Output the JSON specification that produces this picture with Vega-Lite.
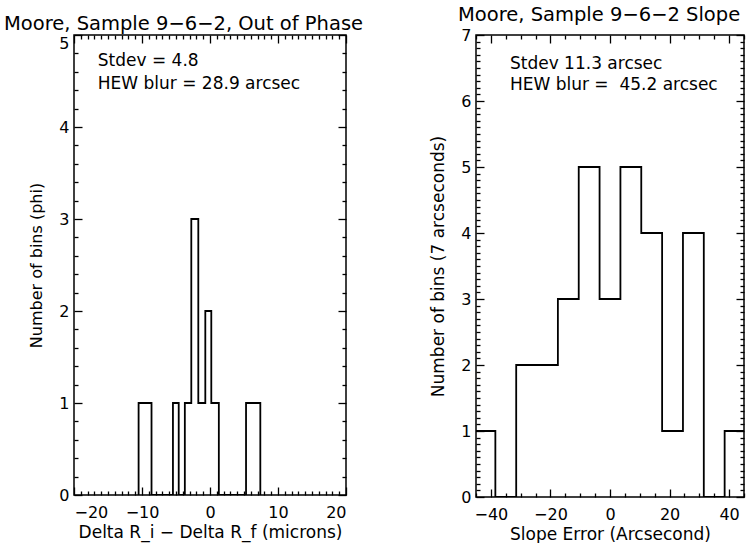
{
  "$schema": "https://vega.github.io/schema/vega-lite/v6.json",
  "background": "white",
  "padding": {"left": 3, "top": 3, "right": 0, "bottom": 0},
  "config": {
    "view": {"stroke": "black", "strokeWidth": 1.5},
    "font": "DejaVu Sans",
    "axis": {"grid": false, "domain": false, "tickColor": "black", "tickWidth": 1.3, "labelColor": "black", "titleColor": "black", "labelFont": "DejaVu Sans", "titleFont": "DejaVu Sans", "labelFontSize": 16, "titleFontSize": 17, "titleFontWeight": "normal"},
    "title": {"fontSize": 19.5, "fontWeight": "normal", "color": "black", "anchor": "start", "frame": "group", "font": "DejaVu Sans"}
  },
  "datasets": {
    "left": [
      {"x": -10.5, "y": 0}, {"x": -10.5, "y": 1}, {"x": -8.6, "y": 0},
      {"x": -5.45, "y": 1}, {"x": -4.6, "y": 0},
      {"x": -3.7, "y": 1}, {"x": -2.75, "y": 3}, {"x": -1.72, "y": 1}, {"x": -0.69, "y": 2}, {"x": 0.19, "y": 1}, {"x": 1.3, "y": 0},
      {"x": 5.3, "y": 1}, {"x": 7.4, "y": 0}
    ],
    "right": [
      {"x": -45, "y": 1}, {"x": -38.5, "y": 0}, {"x": -31.5, "y": 2}, {"x": -17.5, "y": 3}, {"x": -10.5, "y": 5},
      {"x": -3.5, "y": 3}, {"x": 3.5, "y": 5}, {"x": 10.5, "y": 4}, {"x": 17.5, "y": 1}, {"x": 24.5, "y": 4},
      {"x": 31.5, "y": 0}, {"x": 38.5, "y": 1}, {"x": 45, "y": 1}
    ],
    "leftText": [
      {"x": -16.5, "y": 4.72, "label": "Stdev = 4.8"},
      {"x": -16.5, "y": 4.47, "label": "HEW blur = 28.9 arcsec"}
    ],
    "rightText": [
      {"x": -33.6, "y": 6.56, "label": "Stdev 11.3 arcsec"},
      {"x": -33.6, "y": 6.24, "label": "HEW blur =\u00a0 45.2 arcsec"}
    ]
  },
  "bounds": "flush",
  "spacing": 130,
  "hconcat": [
    {
      "width": 272,
      "height": 460,
      "title": {"text": "Moore, Sample 9\u22126\u22122, Out of Phase", "dx": -70, "offset": 0},
      "resolve": {"axis": {"x": "independent", "y": "independent"}},
      "layer": [
        {
          "data": {"name": "left"},
          "mark": {"type": "line", "interpolate": "step-after", "color": "black", "strokeWidth": 1.8, "clip": true},
          "encoding": {
            "x": {"field": "x", "type": "quantitative", "scale": {"domain": [-20, 20], "nice": false, "zero": false},
              "axis": {"orient": "bottom", "values": [-20, -10, 0, 10, 20], "tickSize": 8, "offset": -8, "labelPadding": 9, "title": "Delta R_i \u2212 Delta R_f (microns)", "titlePadding": 4}},
            "y": {"field": "y", "type": "quantitative", "scale": {"domain": [0, 5], "nice": false},
              "axis": {"orient": "left", "values": [0, 1, 2, 3, 4, 5], "tickSize": 8, "offset": -8, "labelPadding": 5, "labelBaseline": {"condition": {"test": "datum.value === 5", "value": "top"}, "value": "middle"}, "title": "Number of bins (phi)", "titleFontSize": 16, "titlePadding": 14}}
          }
        },
        {
          "data": {"name": "left"},
          "mark": {"type": "line", "interpolate": "step-after", "opacity": 0},
          "encoding": {
            "x": {"field": "x", "type": "quantitative", "scale": {"domain": [-20, 20], "nice": false, "zero": false},
              "axis": {"orient": "bottom", "values": [-19,-18,-17,-16,-15,-14,-13,-12,-11,-9,-8,-7,-6,-5,-4,-3,-2,-1,1,2,3,4,5,6,7,8,9,11,12,13,14,15,16,17,18,19], "tickSize": 4, "offset": -4, "labels": false, "title": null}},
            "y": {"field": "y", "type": "quantitative", "scale": {"domain": [0, 5], "nice": false},
              "axis": {"orient": "left", "values": [0.2,0.4,0.6,0.8,1.2,1.4,1.6,1.8,2.2,2.4,2.6,2.8,3.2,3.4,3.6,3.8,4.2,4.4,4.6,4.8], "tickSize": 4, "offset": -4, "labels": false, "title": null}}
          }
        },
        {
          "data": {"name": "left"},
          "mark": {"type": "line", "interpolate": "step-after", "opacity": 0},
          "encoding": {
            "x": {"field": "x", "type": "quantitative", "scale": {"domain": [-20, 20], "nice": false, "zero": false},
              "axis": {"orient": "top", "values": [-20, -10, 0, 10, 20], "tickSize": 8, "offset": -8, "labels": false, "title": null}},
            "y": {"field": "y", "type": "quantitative", "scale": {"domain": [0, 5], "nice": false},
              "axis": {"orient": "right", "values": [0, 1, 2, 3, 4, 5], "tickSize": 8, "offset": -8, "labels": false, "title": null}}
          }
        },
        {
          "data": {"name": "left"},
          "mark": {"type": "line", "interpolate": "step-after", "opacity": 0},
          "encoding": {
            "x": {"field": "x", "type": "quantitative", "scale": {"domain": [-20, 20], "nice": false, "zero": false},
              "axis": {"orient": "top", "values": [-19,-18,-17,-16,-15,-14,-13,-12,-11,-9,-8,-7,-6,-5,-4,-3,-2,-1,1,2,3,4,5,6,7,8,9,11,12,13,14,15,16,17,18,19], "tickSize": 4, "offset": -4, "labels": false, "title": null}},
            "y": {"field": "y", "type": "quantitative", "scale": {"domain": [0, 5], "nice": false},
              "axis": {"orient": "right", "values": [0.2,0.4,0.6,0.8,1.2,1.4,1.6,1.8,2.2,2.4,2.6,2.8,3.2,3.4,3.6,3.8,4.2,4.4,4.6,4.8], "tickSize": 4, "offset": -4, "labels": false, "title": null}}
          }
        },
        {
          "data": {"name": "leftText"},
          "mark": {"type": "text", "align": "left", "baseline": "middle", "fontSize": 17, "color": "black"},
          "encoding": {
            "x": {"field": "x", "type": "quantitative", "axis": null},
            "y": {"field": "y", "type": "quantitative", "axis": null},
            "text": {"field": "label"}
          }
        }
      ]
    },
    {
      "width": 268,
      "height": 462,
      "title": {"text": "Moore, Sample 9\u22126\u22122 Slope", "dx": -18, "offset": 2},
      "resolve": {"axis": {"x": "independent", "y": "independent"}},
      "layer": [
        {
          "data": {"name": "right"},
          "mark": {"type": "line", "interpolate": "step-after", "color": "black", "strokeWidth": 1.8, "clip": true},
          "encoding": {
            "x": {"field": "x", "type": "quantitative", "scale": {"domain": [-45, 45], "nice": false, "zero": false},
              "axis": {"orient": "bottom", "values": [-40, -20, 0, 20, 40], "tickSize": 8, "offset": -8, "labelPadding": 9, "title": "Slope Error (Arcsecond)", "titlePadding": 4}},
            "y": {"field": "y", "type": "quantitative", "scale": {"domain": [0, 7], "nice": false},
              "axis": {"orient": "left", "values": [0, 1, 2, 3, 4, 5, 6, 7], "tickSize": 8, "offset": -8, "labelPadding": 5, "title": "Number of bins (7 arcseconds)", "titlePadding": 13}}
          }
        },
        {
          "data": {"name": "right"},
          "mark": {"type": "line", "interpolate": "step-after", "opacity": 0},
          "encoding": {
            "x": {"field": "x", "type": "quantitative", "scale": {"domain": [-45, 45], "nice": false, "zero": false},
              "axis": {"orient": "bottom", "values": [-45,-35,-30,-25,-15,-10,-5,5,10,15,25,30,35,45], "tickSize": 4, "offset": -4, "labels": false, "title": null}},
            "y": {"field": "y", "type": "quantitative", "scale": {"domain": [0, 7], "nice": false},
              "axis": {"orient": "left", "values": [0.1,0.2,0.3,0.4,0.5,0.6,0.7,0.8,0.9,1.1,1.2,1.3,1.4,1.5,1.6,1.7,1.8,1.9,2.1,2.2,2.3,2.4,2.5,2.6,2.7,2.8,2.9,3.1,3.2,3.3,3.4,3.5,3.6,3.7,3.8,3.9,4.1,4.2,4.3,4.4,4.5,4.6,4.7,4.8,4.9,5.1,5.2,5.3,5.4,5.5,5.6,5.7,5.8,5.9,6.1,6.2,6.3,6.4,6.5,6.6,6.7,6.8,6.9], "tickSize": 4, "offset": -4, "labels": false, "title": null}}
          }
        },
        {
          "data": {"name": "right"},
          "mark": {"type": "line", "interpolate": "step-after", "opacity": 0},
          "encoding": {
            "x": {"field": "x", "type": "quantitative", "scale": {"domain": [-45, 45], "nice": false, "zero": false},
              "axis": {"orient": "top", "values": [-40, -20, 0, 20, 40], "tickSize": 8, "offset": -8, "labels": false, "title": null}},
            "y": {"field": "y", "type": "quantitative", "scale": {"domain": [0, 7], "nice": false},
              "axis": {"orient": "right", "values": [0, 1, 2, 3, 4, 5, 6, 7], "tickSize": 8, "offset": -8, "labels": false, "title": null}}
          }
        },
        {
          "data": {"name": "right"},
          "mark": {"type": "line", "interpolate": "step-after", "opacity": 0},
          "encoding": {
            "x": {"field": "x", "type": "quantitative", "scale": {"domain": [-45, 45], "nice": false, "zero": false},
              "axis": {"orient": "top", "values": [-45,-35,-30,-25,-15,-10,-5,5,10,15,25,30,35,45], "tickSize": 4, "offset": -4, "labels": false, "title": null}},
            "y": {"field": "y", "type": "quantitative", "scale": {"domain": [0, 7], "nice": false},
              "axis": {"orient": "right", "values": [0.1,0.2,0.3,0.4,0.5,0.6,0.7,0.8,0.9,1.1,1.2,1.3,1.4,1.5,1.6,1.7,1.8,1.9,2.1,2.2,2.3,2.4,2.5,2.6,2.7,2.8,2.9,3.1,3.2,3.3,3.4,3.5,3.6,3.7,3.8,3.9,4.1,4.2,4.3,4.4,4.5,4.6,4.7,4.8,4.9,5.1,5.2,5.3,5.4,5.5,5.6,5.7,5.8,5.9,6.1,6.2,6.3,6.4,6.5,6.6,6.7,6.8,6.9], "tickSize": 4, "offset": -4, "labels": false, "title": null}}
          }
        },
        {
          "data": {"name": "rightText"},
          "mark": {"type": "text", "align": "left", "baseline": "middle", "fontSize": 17, "color": "black"},
          "encoding": {
            "x": {"field": "x", "type": "quantitative", "axis": null},
            "y": {"field": "y", "type": "quantitative", "axis": null},
            "text": {"field": "label"}
          }
        }
      ]
    }
  ]
}
